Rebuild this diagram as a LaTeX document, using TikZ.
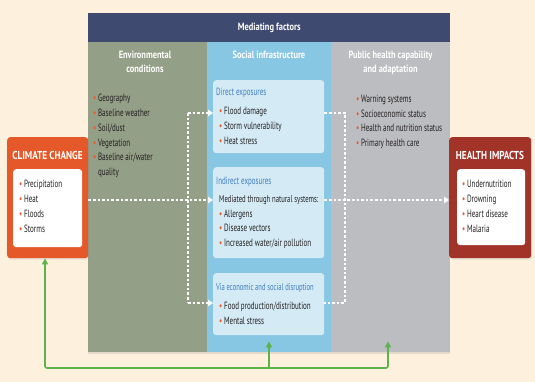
\documentclass[tikz,border=0pt]{standalone}
\usepackage{fontspec}
\setmainfont{PT Sans}[FakeStretch=0.67]
\newfontfamily\headfont{PT Sans}[FakeStretch=0.8]
\usetikzlibrary{arrows.meta,positioning,shadows}

\definecolor{cream}{HTML}{FDF1DE}
\definecolor{navy}{HTML}{3F4A70}
\definecolor{envgreen}{HTML}{939F86}
\definecolor{socblue}{HTML}{87C7E3}
\definecolor{pubgrey}{HTML}{BCBDC0}
\definecolor{boxblue}{HTML}{D4EBF6}
\definecolor{headblue}{HTML}{3E7CC0}
\definecolor{ccorange}{HTML}{E5582A}
\definecolor{hired}{HTML}{A23328}
\definecolor{bulletc}{HTML}{E55A2B}
\definecolor{textc}{HTML}{231F20}
\definecolor{feedgreen}{HTML}{5BB34A}

\newcommand{\bul}{\textcolor{bulletc}{\textbullet}\,}

\begin{document}
\begin{tikzpicture}
    [
        x=1pt, y=-1pt,
        column/.style={anchor=north west, inner sep=0pt, minimum width=119pt, minimum height=310pt},
        heading/.style={text=white, font=\headfont\bfseries\fontsize{10.5}{14}\selectfont, align=center, inner sep=0pt},
        items/.style={anchor=north west, inner sep=0pt, align=left, text=textc, font=\fontsize{10.5}{14.8}\selectfont},
        subbox/.style={anchor=north west, fill=boxblue, rounded corners=3pt, minimum width=111pt, inner sep=0pt},
        subhead/.style={anchor=north west, inner sep=0pt, text=headblue, font=\fontsize{10.5}{14}\selectfont},
        impact/.style={anchor=north west, rounded corners=3pt, minimum width=81pt, minimum height=121pt, inner sep=0pt,
            drop shadow={opacity=0.15, shadow xshift=1pt, shadow yshift=-1.5pt}},
        inbox/.style={anchor=north west, fill=white, rounded corners=3pt, minimum width=69pt, minimum height=78pt, inner sep=0pt},
        title/.style={text=white, font=\headfont\bfseries\fontsize{11.5}{12}\selectfont, inner sep=0pt},
        flow/.style={white, line width=2.4pt, dash pattern=on 2.6pt off 2pt},
        flowarrow/.style={flow, -{Triangle[length=5pt,width=6.5pt]}},
        feedback/.style={feedgreen, line width=1.6pt, rounded corners=2pt},
    ]

    \useasboundingbox[fill=cream] (0,0) rectangle (535,382);

    % mediating factors
    \fill[navy, drop shadow={opacity=0.2, shadow xshift=0pt, shadow yshift=-2pt}] (88,13) rectangle (450,352);
    \node (header) at (88,13) [anchor=north west, fill=navy, minimum width=362pt, minimum height=29pt, inner sep=0pt] {};
    \node at (header.center) [heading] {Mediating factors};

    \node (env) at (88,42)  [column, fill=envgreen] {};
    \node (soc) at (207,42) [column, fill=socblue, minimum width=124pt] {};
    \node (pub) at (331,42) [column, fill=pubgrey] {};

    \node at (145,62)   [heading] {Environmental\\conditions};
    \node at (269,55)   [heading] {Social infrastructure};
    \node at (390.5,63) [heading] {Public health capability\\and adaptation};

    \node at (93,94) [items] {\bul Geography\\\bul Baseline weather\\\bul Soil/dust\\\bul Vegetation\\
        \bul Baseline air/water\\\phantom{\bul}quality};
    \node at (356,95) [items, font=\fontsize{10.5}{14.5}\selectfont] {\bul Warning systems\\\bul Socioeconomic status\\
        \bul Health and nutrition status\\\bul Primary health care};

    % exposures
    \node (direct)   at (213,80)  [subbox, minimum height=73pt] {};
    \node (indirect) at (213,167) [subbox, minimum height=91pt] {};
    \node (via)      at (213,273) [subbox, minimum height=62pt] {};

    \node at (216,88)  [subhead] {Direct exposures};
    \node at (219,107) [items] {\bul Flood damage\\\bul Storm vulnerability\\\bul Heat stress};
    \node at (216,177) [subhead] {Indirect exposures};
    \node at (219,195) [items] {{\fontsize{10}{14.8}\selectfont Mediated through natural systems:}\\\bul Allergens\\
        \bul Disease vectors\\\bul Increased water/air pollution};
    \node at (216,283) [subhead, font=\fontsize{9.8}{14}\selectfont] {Via economic and social disruption};
    \node at (219,302) [items] {\bul Food production/distribution\\\bul Mental stress};

    % climate change
    \node (cc) at (7,137) [impact, fill=ccorange] {};
    \node at (47.5,155) [title] {CLIMATE CHANGE};
    \node (ccin) at (13,169) [inbox] {};
    \node at (19,180) [items] {\bul Precipitation\\\bul Heat\\\bul Floods\\\bul Storms};

    % health impacts
    \node (hi) at (449,137) [impact, fill=hired, minimum width=82pt] {};
    \node at (490,155) [title] {HEALTH IMPACTS};
    \node (hiin) at (457,169) [inbox, minimum width=68pt, minimum height=76pt] {};
    \node at (462,180) [items] {\bul Undernutrition\\\bul Drowning\\\bul Heart disease\\\bul Malaria};

    % pathways
    \coordinate (ltop) at (188,113);
    \coordinate (lmid) at (188,200);
    \coordinate (lbot) at (188,303);
    \coordinate (rtop) at (345,113);
    \coordinate (rmid) at (345,200);
    \coordinate (rbot) at (345,303);

    \draw[flow] (ltop) -- (lbot);
    \draw[flowarrow] (ltop) -- (direct.west |- ltop);
    \draw[flowarrow] (cc.east |- lmid) -- (indirect.west |- lmid);
    \draw[flowarrow] (lbot) -- (via.west |- lbot);
    \draw[flow] (direct.east |- rtop) -- (rtop) -- (rbot) -- (via.east |- rbot);
    \draw[flowarrow] (indirect.east |- rmid) -- (hi.west |- rmid);

    % feedback
    \coordinate (gl) at (45,368);
    \coordinate (gm) at (269,368);
    \coordinate (gr) at (388,368);

    \draw[feedback, {Triangle[length=6pt,width=6pt]}-{Triangle[length=6pt,width=6pt]}, shorten <=6pt]
        (gr |- via.south) -- (gr) -- (gl) -- (gl |- cc.south);
    \draw[feedback, -{Triangle[length=6pt,width=6pt]}, shorten >=6pt] (gm) -- (gm |- via.south);

\end{tikzpicture}
\end{document}
